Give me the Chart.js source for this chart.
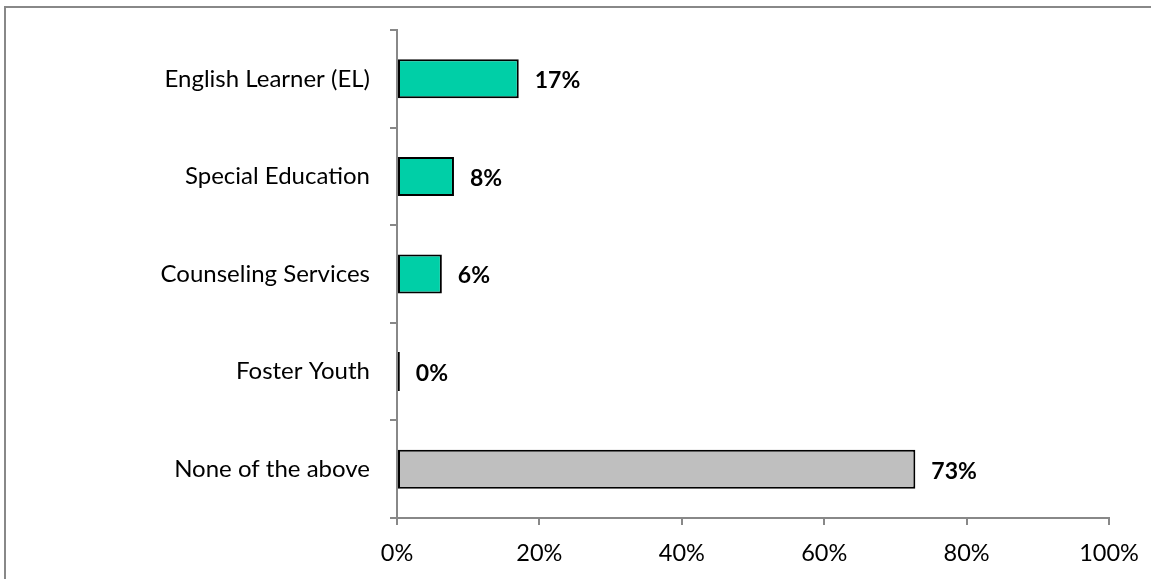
<!DOCTYPE html>
<html><head><meta charset="utf-8">
<script src="https://cdn.jsdelivr.net/npm/chart.js@4"></script>
<style>html,body{margin:0;padding:0;background:#fff}#wrap{width:1151px;height:579px;position:relative}</style>
</head><body><div id="wrap"><canvas id="c" width="1151" height="579"></canvas></div>
<script>
const categories = ["English Learner (EL)", "Special Education", "Counseling Services", "Foster Youth", "None of the above"];
const values = [17.1, 8.0, 6.3, 0.4, 72.8];
const valueLabels = ["17%", "8%", "6%", "0%", "73%"];
const barColors = ["#00CFA7", "#00CFA7", "#00CFA7", "#00CFA7", "#BFBFBF"];
const xTicks = [0, 20, 40, 60, 80, 100];

const FONT = "Lato, 'Open Sans', sans-serif";
const framePlugin = {
  id: 'frame',
  beforeDraw(chart) {
    const ctx = chart.ctx;
    ctx.save();
    ctx.fillStyle = '#fff';
    ctx.fillRect(0, 0, chart.width, chart.height);
    ctx.strokeStyle = '#888888';
    ctx.lineWidth = 2;
    ctx.beginPath();
    ctx.moveTo(5, chart.height + 5);
    ctx.lineTo(5, 7);
    ctx.lineTo(chart.width + 5, 7);
    ctx.stroke();
    ctx.restore();
  }
};
const labelPlugin = {
  id: 'vlabels',
  afterDatasetsDraw(chart) {
    const ctx = chart.ctx;
    const meta = chart.getDatasetMeta(0);
    ctx.save();
    ctx.font = "bold 23px " + FONT;
    ctx.fillStyle = '#000';
    ctx.textBaseline = 'middle';
    ctx.textAlign = 'left';
    meta.data.forEach((bar, i) => {
      ctx.fillText(valueLabels[i], bar.x + 16, bar.y + 2);
    });
    ctx.restore();
  }
};
function noPad(s) { s.paddingLeft = 0; s.paddingRight = 0; s.paddingTop = 0; s.paddingBottom = 0; }

new Chart(document.getElementById('c'), {
  type: 'bar',
  data: {
    labels: categories,
    datasets: [{
      data: values,
      backgroundColor: barColors,
      borderColor: '#000',
      borderWidth: 2,
      borderSkipped: false,
      categoryPercentage: 0.4,
      barPercentage: 1.0
    }]
  },
  options: {
    indexAxis: 'y',
    responsive: false,
    animation: false,
    devicePixelRatio: 1,
    layout: { padding: { left: 0, right: 42, top: 30, bottom: 0 } },
    plugins: { legend: { display: false }, tooltip: { enabled: false } },
    scales: {
      x: {
        min: 0, max: 100,
        afterFit(s) { s.height = 61; noPad(s); },
        afterBuildTicks(s) { s.ticks = xTicks.map(v => ({ value: v })); },
        border: { display: true, color: '#888888', width: 2 },
        grid: { drawOnChartArea: false, drawTicks: true, tickLength: 7, color: '#888888', lineWidth: 2 },
        ticks: { color: '#000', font: { family: FONT, size: 23.5 }, padding: 14, callback: v => v + '%' }
      },
      y: {
        afterFit(s) { s.width = 397; noPad(s); },
        border: { display: true, color: '#888888', width: 2 },
        grid: { offset: true, drawOnChartArea: false, drawTicks: true, tickLength: 7, color: '#888888', lineWidth: 2 },
        ticks: { color: '#000', font: { family: FONT, size: 24 }, padding: 20 }
      }
    }
  },
  plugins: [framePlugin, labelPlugin]
});
</script></body></html>
